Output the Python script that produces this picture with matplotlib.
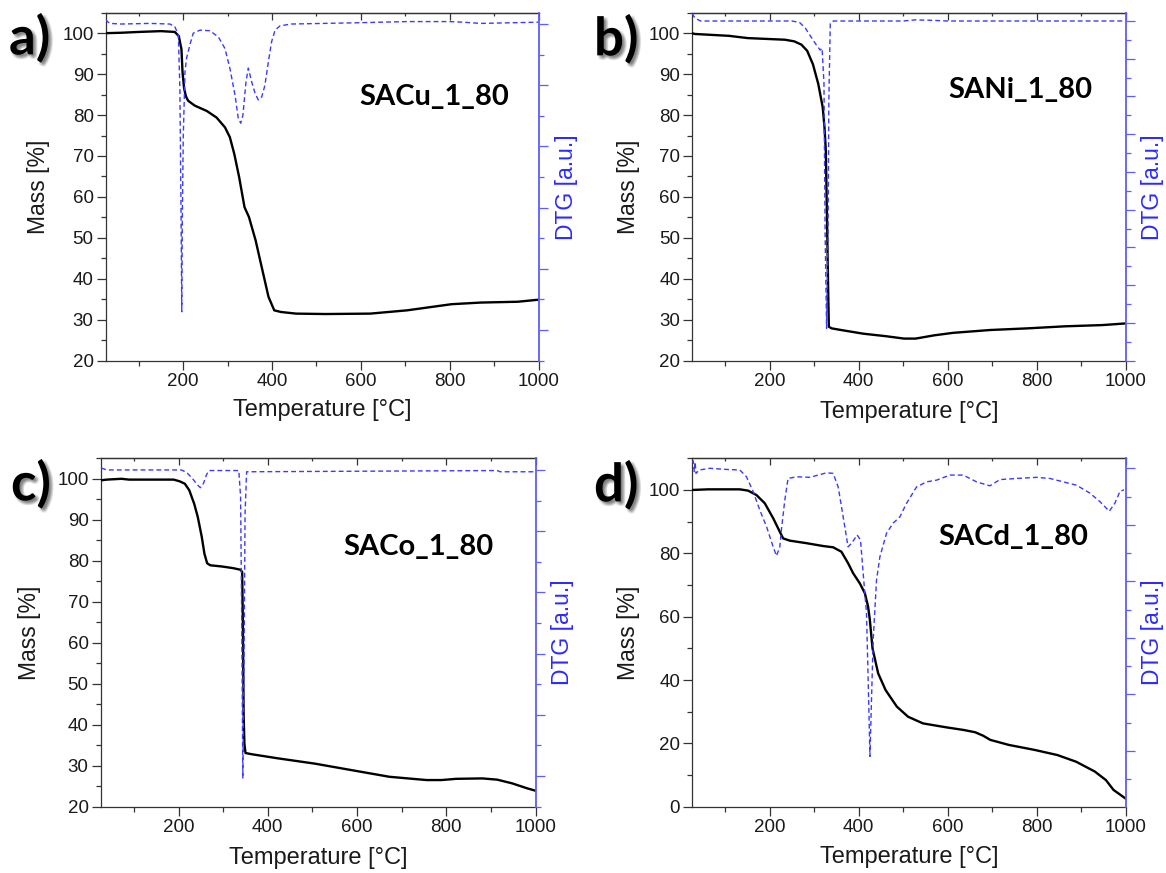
import matplotlib
matplotlib.use("Agg")
import matplotlib.pyplot as plt
from matplotlib import patheffects
from matplotlib.ticker import MultipleLocator

# ---------------------------------------------------------------- data
# SACu_1_80
temp_cu = [25, 60, 100, 150, 181, 190, 196, 198.5, 202, 206, 211, 226, 253, 275,
           294, 305, 315, 326, 338, 348, 363, 380, 392, 405, 420, 454, 520, 621,
           704, 804, 870, 953, 1000]
mass_cu = [100.0, 100.1, 100.3, 100.5, 100.3, 99.3, 96.1, 90.4, 86.5, 84.6, 83.5,
           82.3, 81.0, 79.4, 77.0, 74.6, 70.5, 64.8, 57.5, 55.1, 49.4, 41.3, 35.6,
           32.3, 31.9, 31.5, 31.4, 31.5, 32.3, 33.8, 34.2, 34.4, 34.9]
temp_cu_dtg = [25, 31, 36, 60, 125, 170, 181, 189, 192.5, 195, 196.7, 198, 200, 204,
               207.5, 215, 222.6, 237.7, 260, 279, 294, 305, 316.6, 324, 329.5,
               334.4, 341.4, 346.6, 354, 361.7, 369, 376.8, 384, 391.7, 399, 406.8,
               418, 443, 588, 704, 801, 829, 870, 1000]
dtg_cu = [0.07, 0.03, 0.01, 0.0, 0.01, 0.0, -0.04, -0.18, -1.05, -3.0, -4.70, -3.2,
          -1.87, -0.78, -0.56, -0.34, -0.15, -0.10, -0.11, -0.21, -0.40, -0.72,
          -1.16, -1.54, -1.62, -1.49, -0.94, -0.72, -0.94, -1.13, -1.24, -1.19,
          -1.00, -0.62, -0.29, -0.10, -0.03, 0.0, 0.02, 0.04, 0.04, 0.03, 0.01, 0.03]

# SANi_1_80
temp_ni = [24, 32, 108, 150, 234, 255, 271, 284, 297, 309, 319, 323, 326, 328.6,
           331, 332.8, 339, 360, 410, 460, 502, 528, 570, 612, 696, 780, 864, 948,
           1000]
mass_ni = [100.0, 99.8, 99.35, 98.8, 98.4, 98.0, 97.2, 95.7, 92.4, 87.6, 81.9,
           77.0, 71.3, 55.1, 38.8, 28.3, 27.9, 27.5, 26.6, 26.0, 25.4, 25.4, 26.2,
           26.8, 27.5, 27.9, 28.4, 28.7, 29.1]
temp_ni_dtg = [25, 32, 44.5, 250, 267, 280, 292, 305, 313.4, 317.6, 321.8, 324.4,
               327.7, 331, 332.8, 336, 343, 500, 527, 560, 600, 1000]
dtg_ni = [0.20, 0.07, 0.0, 0.0, -0.04, -0.19, -0.41, -0.64, -0.77, -0.72, -1.65,
          -5.62, -8.14, -5.62, -2.09, -0.06, 0.0, 0.0, 0.03, 0.02, 0.0, 0.0]

# SACo_1_80
temp_co = [24, 39, 72, 89, 189, 202, 214, 224, 235, 243, 252, 258, 264, 271,
           297.5, 322.5, 339, 342.5, 344, 345.8, 347.5, 350, 364, 422.5, 505.8,
           589, 672.5, 755.8, 789, 822.5, 880.8, 914, 947.5, 980.8, 1000]
mass_co = [99.6, 99.8, 100.0, 99.8, 99.8, 99.4, 98.8, 97.2, 93.9, 90.7, 85.8,
           81.7, 79.4, 78.9, 78.6, 78.2, 77.8, 77.3, 66.3, 42.7, 35.4, 33.1, 32.8,
           31.8, 30.5, 28.9, 27.3, 26.5, 26.5, 26.8, 26.9, 26.6, 25.7, 24.5, 23.9]
temp_co_dtg = [26.7, 39, 205.8, 218, 231, 243, 249, 255.8, 262.5, 268, 335, 339,
               341.7, 344, 346.7, 349, 352.5, 914, 921, 1000]
dtg_co = [0.03, 0.0, 0.0, -0.04, -0.14, -0.25, -0.29, -0.22, -0.08, -0.01, -0.01,
          -0.44, -2.61, -5.04, -3.16, -0.71, -0.03, -0.01, -0.03, -0.03]

# SACd_1_80
temp_cd = [25, 61, 132.5, 151, 170, 188.7, 207.5, 222.5, 230, 245, 282.6, 320,
           342.5, 361, 376, 387.5, 402.5, 413.8, 421, 425, 431, 443.7, 460.5,
           485.7, 511, 544.5, 595, 637, 662, 680, 695.8, 737.8, 796.6, 847, 889,
           931, 956, 973, 1000]
mass_cd = [100.0, 100.2, 100.2, 99.8, 98.4, 95.8, 91.1, 86.8, 84.7, 84.0, 83.2,
           82.3, 81.9, 80.5, 76.9, 73.7, 70.5, 67.4, 63.2, 59.0, 50.0, 42.1, 36.8,
           31.6, 28.4, 26.3, 25.1, 24.2, 23.5, 22.4, 21.1, 19.5, 17.9, 16.3, 14.2,
           11.1, 8.4, 5.3, 2.6]
temp_cd_dtg = [26, 28, 30, 32, 34, 41.5, 65, 102.5, 132.5, 147.5, 162.5, 177.5,
               192.5, 207.5, 215, 222.5, 226, 233.8, 241, 260, 290, 327.5, 342.5,
               353.8, 365, 376, 383.7, 396.5, 404, 410, 417.5, 422, 425.2, 428,
               432.5, 440, 447.5, 462.5, 477.5, 492.5, 507.5, 530, 552.5, 575, 605,
               635, 665, 695, 717.5, 755, 800, 830, 860, 890, 920, 942.5, 963.5,
               976, 987.5, 996.5]
dtg_cd = [0.10, 0.13, -0.06, 0.11, -0.09, -0.03, 0.0, -0.02, -0.03, -0.15, -0.41,
          -0.74, -1.03, -1.39, -1.55, -1.39, -1.09, -0.56, -0.18, -0.15, -0.16,
          -0.08, -0.09, -0.33, -0.86, -1.39, -1.33, -1.18, -1.27, -1.86, -2.57,
          -4.0, -5.10, -4.3, -3.04, -1.98, -1.57, -1.15, -0.97, -0.86, -0.62,
          -0.33, -0.24, -0.21, -0.12, -0.12, -0.24, -0.31, -0.20, -0.18, -0.16,
          -0.18, -0.24, -0.30, -0.44, -0.59, -0.76, -0.62, -0.41, -0.38]

# ---------------------------------------------------------------- layout / style
W, H = 1166, 873
INK = "#1a1a1a"
SPINE = "#333333"
BLUE_LINE = "#3a3aff"
BLUE_AXIS = "#5c5cff"
BLUE_TEXT = "#2b2bff"
TICK_FONT = "Liberation Sans"

plt.rcParams["font.family"] = ["Liberation Sans", "DejaVu Sans"]

fig = plt.figure(figsize=(W / 100, H / 100), dpi=100)


def frac(x, y):
    return x / W, 1 - y / H


# soft drop shadow for the panel letters, built from faint offset copies
shadow = [patheffects.SimplePatchShadow(offset=(ox, -oy), shadow_rgbFace="black",
                                        alpha=0.04)
          for ox in (0.8, 1.6, 2.4, 3.2) for oy in (0.8, 1.6, 2.4, 3.2)]
shadow.append(patheffects.Normal())

panels = [
    dict(tag="a)", name="SACu_1_80", T=temp_cu, m=mass_cu, Td=temp_cu_dtg, d=dtg_cu,
         box=(105.5, 12.7, 538.5, 360.7), mlim=(20, 105), mmaj=10,
         dlim=(-5.50, 0.185), tag_xy=(9, 38), name_xy=(359, 97),
         mlab_x=38.5, dlab_x=567, xlab_y=410),
    dict(tag="b)", name="SANi_1_80", T=temp_ni, m=mass_ni, Td=temp_ni_dtg, d=dtg_ni,
         box=(692, 12.7, 1125.5, 360.7), mlim=(20, 105), mmaj=10,
         dlim=(-9.0, 0.22), tag_xy=(594, 39), name_xy=(948, 90),
         mlab_x=628.5, dlab_x=1153, xlab_y=412),
    dict(tag="c)", name="SACo_1_80", T=temp_co, m=mass_co, Td=temp_co_dtg, d=dtg_co,
         box=(100.5, 458.3, 535.5, 806.7), mlim=(20, 105), mmaj=10,
         dlim=(-5.50, 0.19), tag_xy=(11, 484), name_xy=(343, 547),
         mlab_x=29.5, dlab_x=563, xlab_y=858),
    dict(tag="d)", name="SACd_1_80", T=temp_cd, m=mass_cd, Td=temp_cd_dtg, d=dtg_cd,
         box=(692, 458.3, 1125.5, 806.7), mlim=(0, 110), mmaj=20,
         dlim=(-5.99, 0.177), tag_xy=(594, 485), name_xy=(938, 537),
         mlab_x=628.5, dlab_x=1153, xlab_y=857),
]

for p in panels:
    l, t, r, b = p["box"]
    ax = fig.add_axes([l / W, 1 - b / H, (r - l) / W, (b - t) / H])
    ax.plot(p["T"], p["m"], color="black", lw=1.7, solid_joinstyle="round", zorder=3)
    ax.set_xlim(25, 1000)
    ax.set_ylim(*p["mlim"])

    ax.xaxis.set_major_locator(MultipleLocator(200))
    ax.xaxis.set_minor_locator(MultipleLocator(100))
    ax.yaxis.set_major_locator(MultipleLocator(p["mmaj"]))
    ax.yaxis.set_minor_locator(MultipleLocator(p["mmaj"] / 2))
    ax.tick_params(which="both", direction="out", colors=SPINE, labelcolor=INK,
                   labelsize=13.5, top=False, right=False, width=0.9)
    ax.tick_params(which="major", length=6.5, pad=2)
    ax.tick_params(which="minor", length=3.5)
    for lab in ax.get_xticklabels() + ax.get_yticklabels():
        lab.set_fontfamily(TICK_FONT)
    for s in ("left", "bottom", "top"):
        ax.spines[s].set_color(SPINE)
        ax.spines[s].set_linewidth(0.9)
    ax.spines["right"].set_visible(False)

    # top axis: same ticks, pointing inward, no labels
    top = ax.secondary_xaxis("top")
    top.xaxis.set_major_locator(MultipleLocator(200))
    top.xaxis.set_minor_locator(MultipleLocator(100))
    top.tick_params(which="both", direction="in", colors=SPINE, labeltop=False,
                    width=0.9)
    top.tick_params(which="major", length=5)
    top.tick_params(which="minor", length=2.5)
    top.spines["top"].set_color(SPINE)
    top.spines["top"].set_linewidth(0.9)

    # DTG on its own right-hand scale
    dx = ax.twinx()
    dx.plot(p["Td"], p["d"], color=BLUE_LINE, lw=1.0, dashes=(3.5, 2.2), zorder=2)
    dx.set_ylim(*p["dlim"])
    dx.yaxis.set_major_locator(MultipleLocator(1))
    dx.yaxis.set_minor_locator(MultipleLocator(0.5))
    dx.tick_params(which="both", direction="out", colors=BLUE_AXIS,
                   labelright=False, width=0.9)
    dx.tick_params(which="major", length=6.5)
    dx.tick_params(which="minor", length=3.5)
    for s in ("left", "bottom", "top"):
        dx.spines[s].set_visible(False)
    dx.spines["right"].set_color(BLUE_AXIS)
    dx.spines["right"].set_linewidth(1.3)

    # axis titles
    fx, fy = frac(p["mlab_x"], (t + b) / 2)
    fig.text(fx, fy, "Mass [%]", rotation=90, ha="center", va="center",
             fontsize=16.5, color=INK, family=TICK_FONT)
    fx, fy = frac(p["dlab_x"], (t + b) / 2)
    fig.text(fx, fy, "DTG [a.u.]", rotation=90, ha="center", va="center",
             fontsize=16.5, color=BLUE_TEXT, family=TICK_FONT)
    fx, fy = frac((l + r) / 2, p["xlab_y"])
    fig.text(fx, fy, "Temperature [\u00b0C]", ha="center", va="center",
             fontsize=17, color=INK, family=TICK_FONT)

    # sample name
    fx, fy = frac(*p["name_xy"])
    fig.text(fx, fy, p["name"], ha="left", va="center", fontsize=21,
             fontweight="bold", family="Lato", color="black")

    # panel letter
    fx, fy = frac(*p["tag_xy"])
    fig.text(fx, fy, p["tag"], ha="left", va="center", fontsize=38,
             fontweight="bold", family="Lato", color="black",
             path_effects=shadow)

fig.savefig("out.png", dpi=100)
